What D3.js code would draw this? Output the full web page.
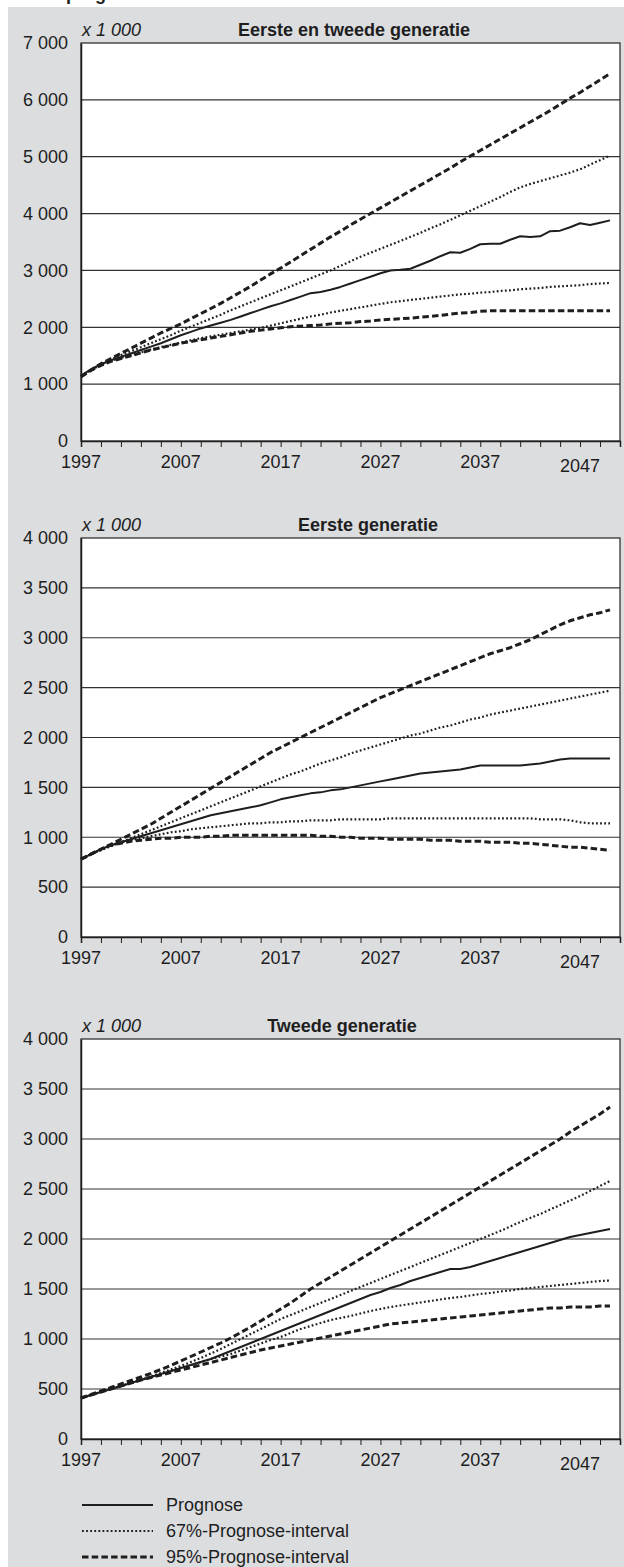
<!DOCTYPE html>
<html>
<head>
<meta charset="utf-8">
<script src="https://cdn.jsdelivr.net/npm/d3@7"></script>
<style>
html,body{margin:0;padding:0;background:#fff;}
svg{display:block;font-family:"Liberation Sans",Arial,sans-serif;}
</style>
</head>
<body>
<svg id="c" width="624" height="1567"></svg>
<script>
// ---------- data ----------
const years = d3.range(1997, 2051);
const xTickLabels = [1997, 2007, 2017, 2027, 2037, 2047];
const chartTitles = ["Eerste en tweede generatie", "Eerste generatie", "Tweede generatie"];
const yTicks1 = [0, 1000, 2000, 3000, 4000, 5000, 6000, 7000];
const yTicks2 = [0, 500, 1000, 1500, 2000, 2500, 3000, 3500, 4000];
const yTicks3 = [0, 500, 1000, 1500, 2000, 2500, 3000, 3500, 4000];
const legendLabels = ["Prognose", "67%-Prognose-interval", "95%-Prognose-interval"];

// Chart 1: Eerste en tweede generatie
const c1Prognose = [1150,1260,1350,1420,1480,1540,1600,1660,1720,1790,1860,1920,1980,2030,2080,2130,2190,2250,2310,2370,2420,2480,2540,2600,2620,2660,2710,2770,2830,2890,2950,3000,3010,3030,3100,3170,3250,3320,3310,3380,3460,3470,3470,3540,3600,3590,3600,3690,3700,3760,3830,3800,3840,3880];
const c1Up67 = [1140,1250,1350,1430,1510,1580,1650,1720,1790,1860,1940,2010,2080,2150,2220,2300,2370,2440,2510,2580,2650,2720,2790,2860,2930,3000,3080,3160,3240,3310,3380,3450,3520,3590,3660,3740,3810,3890,3970,4050,4130,4210,4290,4380,4460,4520,4570,4620,4670,4720,4780,4860,4940,5020];
const c1Low67 = [1140,1250,1340,1410,1460,1510,1560,1610,1650,1690,1730,1770,1810,1840,1870,1900,1930,1960,1990,2030,2070,2110,2150,2190,2220,2260,2290,2320,2350,2380,2410,2440,2460,2480,2500,2520,2540,2560,2580,2590,2610,2620,2640,2650,2670,2680,2690,2710,2720,2730,2740,2760,2770,2780];
const c1Up95 = [1130,1250,1360,1450,1540,1630,1720,1810,1900,1980,2060,2150,2240,2330,2420,2520,2620,2720,2830,2940,3040,3150,3260,3370,3480,3590,3690,3800,3900,4000,4100,4200,4300,4400,4500,4600,4700,4800,4910,5010,5110,5210,5310,5410,5510,5610,5710,5810,5920,6030,6130,6240,6350,6460];
const c1Low95 = [1130,1240,1330,1400,1450,1500,1550,1600,1640,1680,1720,1750,1780,1810,1840,1870,1900,1930,1950,1970,1990,2010,2020,2030,2040,2060,2070,2080,2100,2110,2130,2140,2150,2160,2180,2190,2210,2230,2250,2260,2280,2290,2290,2290,2290,2290,2290,2290,2290,2290,2290,2290,2290,2290];

// Chart 2: Eerste generatie
const c2Prognose = [780,830,880,920,950,980,1010,1040,1070,1100,1130,1160,1190,1220,1240,1260,1280,1300,1320,1350,1380,1400,1420,1440,1450,1470,1480,1500,1520,1540,1560,1580,1600,1620,1640,1650,1660,1670,1680,1700,1720,1720,1720,1720,1720,1730,1740,1760,1780,1790,1790,1790,1790,1790];
const c2Up67 = [780,830,870,910,950,990,1030,1070,1110,1150,1190,1230,1270,1310,1350,1390,1430,1470,1510,1550,1590,1630,1660,1700,1740,1770,1800,1840,1870,1900,1930,1960,1990,2020,2040,2070,2100,2120,2150,2180,2200,2230,2250,2270,2290,2310,2330,2350,2370,2390,2410,2430,2450,2470];
const c2Low67 = [780,830,880,920,950,970,990,1010,1030,1050,1060,1080,1090,1100,1110,1120,1130,1140,1140,1150,1150,1160,1160,1170,1170,1170,1180,1180,1180,1180,1180,1190,1190,1190,1190,1190,1190,1190,1190,1190,1190,1190,1190,1190,1190,1190,1180,1180,1180,1170,1150,1140,1140,1140];
const c2Up95 = [780,830,880,930,980,1030,1080,1130,1190,1250,1310,1370,1430,1490,1550,1610,1670,1730,1790,1850,1900,1950,2000,2050,2100,2150,2200,2250,2300,2350,2400,2440,2480,2520,2560,2600,2640,2680,2720,2760,2800,2840,2870,2900,2940,2980,3030,3080,3130,3170,3200,3230,3250,3280];
const c2Low95 = [780,830,880,920,940,960,970,980,990,990,1000,1000,1000,1010,1010,1020,1020,1020,1020,1020,1020,1020,1020,1020,1010,1010,1000,1000,990,990,990,980,980,980,980,970,970,970,960,960,960,950,950,950,940,940,930,920,910,900,900,890,880,870];

// Chart 3: Tweede generatie
const c3Prognose = [410,440,470,500,530,560,590,620,650,680,710,740,770,800,840,880,920,960,1000,1040,1080,1120,1160,1200,1240,1280,1320,1360,1400,1440,1470,1510,1540,1580,1610,1640,1670,1700,1700,1720,1750,1780,1810,1840,1870,1900,1930,1960,1990,2020,2040,2060,2080,2100];
const c3Up67 = [410,440,470,500,530,560,590,625,660,695,730,770,810,855,900,950,1000,1050,1100,1150,1200,1240,1280,1320,1360,1400,1440,1480,1520,1560,1600,1640,1680,1720,1760,1800,1840,1880,1920,1960,2000,2040,2080,2125,2170,2210,2250,2295,2340,2385,2430,2480,2530,2580];
const c3Low67 = [410,440,470,500,530,560,590,620,650,680,710,740,770,800,825,850,885,920,955,990,1020,1060,1100,1130,1160,1190,1210,1230,1255,1280,1300,1320,1335,1350,1365,1380,1395,1410,1420,1435,1450,1460,1475,1485,1500,1510,1520,1530,1540,1550,1560,1570,1580,1585];
const c3Up95 = [410,445,480,515,550,585,620,655,695,735,780,825,870,915,960,1010,1065,1120,1180,1240,1300,1360,1430,1500,1560,1620,1680,1740,1800,1860,1920,1980,2040,2100,2160,2220,2280,2340,2400,2460,2520,2580,2640,2700,2760,2820,2880,2940,3000,3070,3130,3190,3250,3320];
const c3Low95 = [410,440,470,500,530,560,590,615,640,665,690,715,740,765,790,815,840,865,890,910,930,950,970,990,1010,1030,1050,1070,1090,1110,1130,1150,1160,1170,1180,1190,1200,1210,1220,1230,1240,1250,1260,1270,1280,1290,1300,1310,1310,1320,1320,1320,1330,1330];

// ---------- layout & styles ----------
const svg = d3.select("#c");
const INK = "#1e1e1e";
const GRID = "#333";
const FONT = 18;
const left = 81, right = 620;

const styles = {
  prognose: {w: 2, dash: null},
  p67: {w: 2.2, dash: "1.8,2.3"},
  p95: {w: 3, dash: "6.5,3.2"}
};

svg.append("rect").attr("x", 8).attr("y", 7).attr("width", 616).attr("height", 1560).attr("fill", "#dcdddf");

// header text at the very top (cut off in the reference)
svg.append("text").attr("x", 66).attr("y", 0).attr("font-size", 18).attr("font-weight", "bold").attr("fill", INK).text("prognose");

const x = d3.scaleLinear().domain([1997, 2051]).range([left, right]);

const charts = [
  {top: 43, bottom: 441, max: 7000, ticks: yTicks1, title: chartTitles[0], titleX: 354,
   series: [[c1Up95, "p95"], [c1Low95, "p95"], [c1Up67, "p67"], [c1Low67, "p67"], [c1Prognose, "prognose"]]},
  {top: 538, bottom: 937, max: 4000, ticks: yTicks2, title: chartTitles[1], titleX: 368,
   series: [[c2Up95, "p95"], [c2Low95, "p95"], [c2Up67, "p67"], [c2Low67, "p67"], [c2Prognose, "prognose"]]},
  {top: 1039, bottom: 1439, max: 4000, ticks: yTicks3, title: chartTitles[2], titleX: 342,
   series: [[c3Up95, "p95"], [c3Low95, "p95"], [c3Up67, "p67"], [c3Low67, "p67"], [c3Prognose, "prognose"]]}
];

const fmt = v => v === 0 ? "0" : d3.format(",")(v).replace(/,/g, " ");

charts.forEach(ch => {
  const y = d3.scaleLinear().domain([0, ch.max]).range([ch.bottom, ch.top]);
  const g = svg.append("g");
  g.append("rect").attr("x", left).attr("y", ch.top).attr("width", right - left).attr("height", ch.bottom - ch.top).attr("fill", "#fff");

  // gridlines
  g.selectAll("line.grid").data(ch.ticks.filter(t => t > 0 && t < ch.max)).join("line")
    .attr("x1", left).attr("x2", right).attr("y1", d => y(d)).attr("y2", d => y(d))
    .attr("stroke", GRID).attr("stroke-width", 1.2);

  // border
  g.append("rect").attr("x", left).attr("y", ch.top).attr("width", right - left).attr("height", ch.bottom - ch.top)
    .attr("fill", "none").attr("stroke", GRID).attr("stroke-width", 1.3);

  // y axis labels
  const yAxis = d3.axisLeft(y).tickValues(ch.ticks).tickSize(0).tickPadding(13).tickFormat(fmt);
  const ya = g.append("g").attr("transform", `translate(${left},0)`).call(yAxis);
  ya.select(".domain").attr("stroke", INK).attr("stroke-width", 1.5);
  ya.selectAll("text").attr("font-size", FONT).attr("fill", INK).attr("font-family", "Liberation Sans, Arial, sans-serif");

  // x axis
  const xAxis = d3.axisBottom(x).tickValues(d3.range(1997, 2052, 2)).tickSize(6).tickFormat("");
  const xa = g.append("g").attr("transform", `translate(0,${ch.bottom})`).call(xAxis);
  xa.select(".domain").attr("stroke", INK).attr("stroke-width", 1.5);
  xa.selectAll(".tick line").attr("stroke", INK).attr("stroke-width", 1);

  g.selectAll("text.xl").data(xTickLabels).join("text")
    .attr("x", d => x(d)).attr("y", d => ch.bottom + 27 + (d === 2047 ? 4 : 0))
    .attr("text-anchor", "middle").attr("font-size", FONT).attr("fill", INK).text(d => d);

  // headers
  g.append("text").attr("x", 82).attr("y", ch.top - 7).attr("font-size", FONT).attr("font-style", "italic").attr("fill", INK).text("x 1 000");
  g.append("text").attr("x", ch.titleX).attr("y", ch.top - 7).attr("text-anchor", "middle").attr("font-size", FONT).attr("font-weight", "bold").attr("fill", INK).text(ch.title);

  // lines
  const line = d3.line().x((d, i) => x(years[i])).y(d => y(d));
  ch.series.forEach(([vals, kind]) => {
    const s = styles[kind];
    g.append("path").datum(vals).attr("d", line).attr("fill", "none")
      .attr("stroke", INK).attr("stroke-width", s.w)
      .attr("stroke-dasharray", s.dash).attr("stroke-linejoin", "round");
  });
});

// legend
const legendKinds = ["prognose", "p67", "p95"];
const ly = [1505, 1531, 1557];
legendLabels.forEach((lab, i) => {
  const s = styles[legendKinds[i]];
  svg.append("line").attr("x1", 82).attr("x2", 153).attr("y1", ly[i]).attr("y2", ly[i])
    .attr("stroke", INK).attr("stroke-width", s.w).attr("stroke-dasharray", s.dash);
  svg.append("text").attr("x", 166).attr("y", ly[i]).attr("dy", "0.35em").attr("font-size", FONT).attr("fill", INK).text(lab);
});
</script>
</body>
</html>
